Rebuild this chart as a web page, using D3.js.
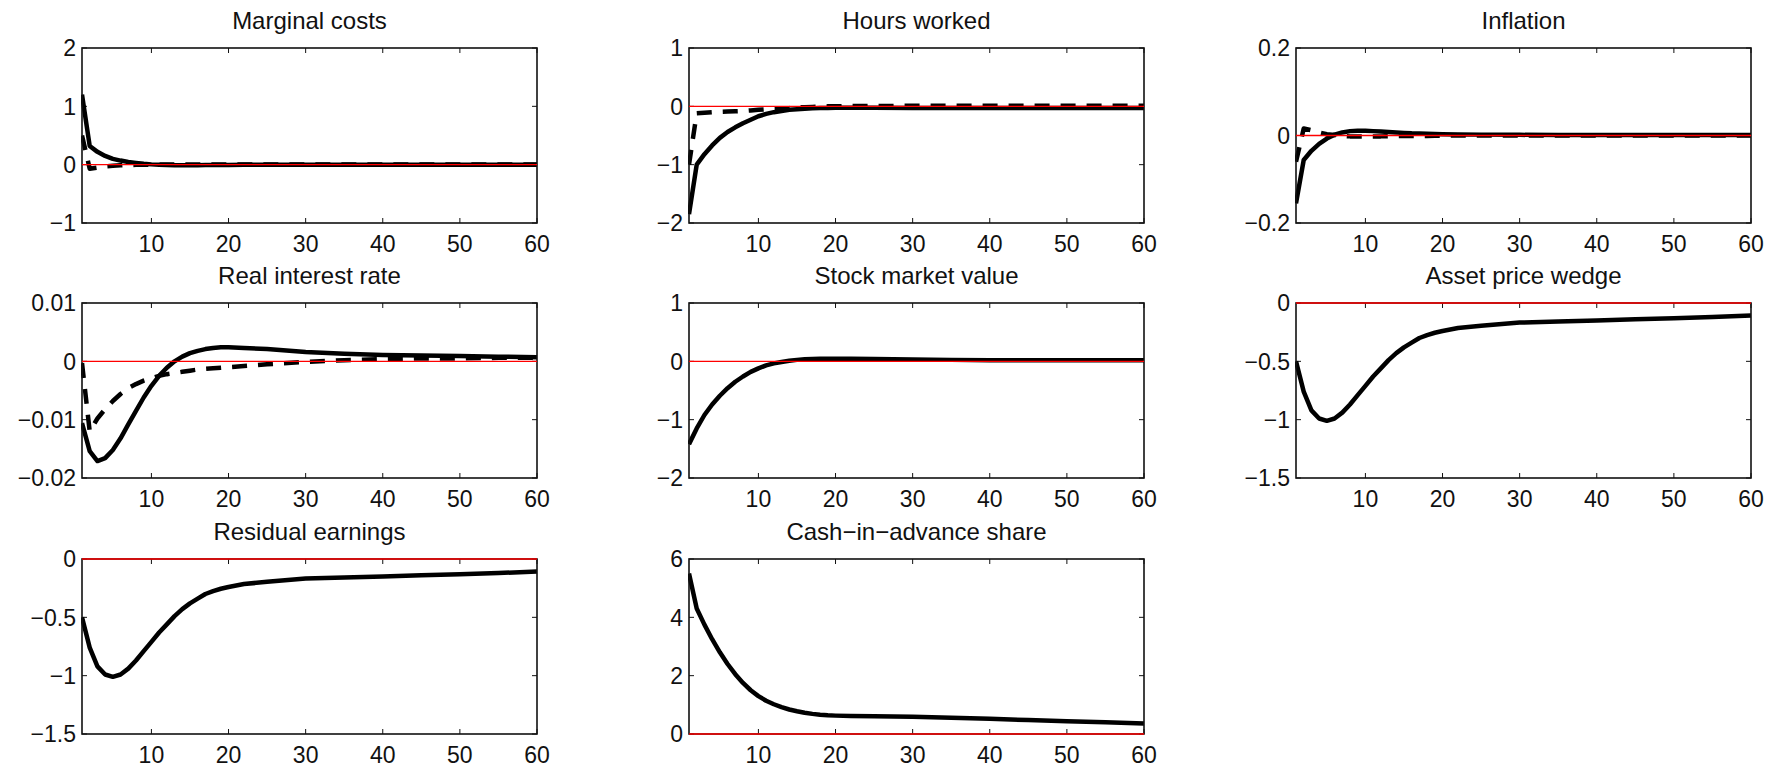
<!DOCTYPE html>
<html>
<head>
<meta charset="utf-8">
<script src="https://cdn.jsdelivr.net/npm/d3@7/dist/d3.min.js"></script>
<style>
  html, body { margin: 0; padding: 0; background: #fff; }
  svg { display: block; }
  text { font-family: "Liberation Sans", Arial, Helvetica, sans-serif; fill: #111; }
</style>
</head>
<body>
<svg id="chart" width="1765" height="769"></svg>
<script>
// ---------- data ----------
const periods = [1,2,3,4,5,6,7,8,9,10,11,12,13,14,15,16,17,18,19,20,22,25,30,35,40,45,50,55,60];

const titles = ["Marginal costs","Hours worked","Inflation","Real interest rate","Stock market value","Asset price wedge","Residual earnings","Cash\u2212in\u2212advance share"];

const xTicks = [10,20,30,40,50,60];

const mcSolid  = [1.2,0.32,0.22,0.15,0.10,0.07,0.045,0.03,0.015,0.005,-0.002,-0.006,-0.008,-0.009,-0.009,-0.008,-0.007,-0.006,-0.005,-0.004,-0.003,-0.002,-0.001,0,0,0,0,0,0];
const mcDashed = [0.5,-0.07,-0.05,-0.03,-0.02,-0.012,-0.006,-0.003,-0.001,0,0.001,0.001,0.002,0.002,0.002,0.002,0.002,0.002,0.002,0.002,0.002,0.002,0.002,0.002,0.002,0.002,0.002,0.002,0.002];

const hoursSolid  = [-1.85,-1.0,-0.82,-0.67,-0.54,-0.44,-0.36,-0.29,-0.23,-0.17,-0.13,-0.10,-0.08,-0.06,-0.05,-0.04,-0.035,-0.03,-0.03,-0.025,-0.025,-0.025,-0.03,-0.03,-0.03,-0.03,-0.03,-0.03,-0.03];
const hoursDashed = [-1.0,-0.12,-0.11,-0.1,-0.095,-0.09,-0.085,-0.08,-0.07,-0.06,-0.05,-0.04,-0.035,-0.03,-0.02,-0.015,-0.01,-0.005,0,0,0.005,0.005,0.01,0.01,0.01,0.01,0.01,0.01,0.01];

const inflSolid  = [-0.155,-0.056,-0.035,-0.019,-0.007,0.002,0.007,0.010,0.011,0.011,0.010,0.009,0.008,0.007,0.006,0.005,0.0045,0.004,0.0035,0.003,0.0025,0.002,0.0015,0.001,0.001,0.001,0.001,0.001,0.001];
const inflDashed = [-0.06,0.016,0.012,0.007,0.003,0.001,-0.001,-0.002,-0.002,-0.002,-0.002,-0.002,-0.0015,-0.0015,-0.001,-0.001,-0.001,-0.001,-0.0005,-0.0005,0,0,0,0,0,0,0,0,0];

const rirSolid  = [-0.0106,-0.0154,-0.0171,-0.0166,-0.0152,-0.0132,-0.0108,-0.0085,-0.0062,-0.0042,-0.0025,-0.0011,0.0000,0.0008,0.0014,0.0018,0.0021,0.0023,0.0024,0.0024,0.0023,0.0021,0.0016,0.0013,0.0011,0.0010,0.0009,0.0008,0.0007];
const rirDashed = [-0.0003,-0.012,-0.0098,-0.0082,-0.0068,-0.0056,-0.0046,-0.0039,-0.0033,-0.0029,-0.0025,-0.0022,-0.0020,-0.0018,-0.0016,-0.0014,-0.0013,-0.0012,-0.0011,-0.0010,-0.0008,-0.0005,-0.0001,0.0002,0.0004,0.0005,0.0005,0.0006,0.0006];

const stockSolid = [-1.42,-1.15,-0.92,-0.74,-0.59,-0.46,-0.35,-0.26,-0.18,-0.12,-0.07,-0.035,-0.01,0.01,0.025,0.035,0.04,0.045,0.045,0.045,0.045,0.04,0.03,0.025,0.02,0.02,0.02,0.02,0.02];

const wedgeSolid = [-0.5,-0.76,-0.92,-0.99,-1.01,-0.99,-0.94,-0.87,-0.79,-0.71,-0.63,-0.56,-0.49,-0.43,-0.38,-0.34,-0.30,-0.275,-0.255,-0.24,-0.215,-0.195,-0.168,-0.158,-0.15,-0.14,-0.13,-0.12,-0.108];

const residSolid = [-0.5,-0.76,-0.92,-0.99,-1.01,-0.99,-0.94,-0.87,-0.79,-0.71,-0.63,-0.56,-0.49,-0.43,-0.38,-0.34,-0.30,-0.275,-0.255,-0.24,-0.215,-0.195,-0.168,-0.158,-0.15,-0.14,-0.13,-0.12,-0.108];

const ciaSolid = [5.5,4.3,3.75,3.25,2.8,2.4,2.05,1.75,1.5,1.3,1.14,1.02,0.92,0.84,0.78,0.73,0.69,0.66,0.64,0.63,0.62,0.61,0.59,0.56,0.52,0.48,0.44,0.40,0.36];

const yDomains = [[-1,2],[-2,1],[-0.2,0.2],[-0.02,0.01],[-2,1],[-1.5,0],[-1.5,0],[0,6]];
const yTicks = [[-1,0,1,2],[-2,-1,0,1],[-0.2,0,0.2],[-0.02,-0.01,0,0.01],[-2,-1,0,1],[-1.5,-1,-0.5,0],[-1.5,-1,-0.5,0],[0,2,4,6]];
const yTickLabels = [["\u22121","0","1","2"],["\u22122","\u22121","0","1"],["\u22120.2","0","0.2"],["\u22120.02","\u22120.01","0","0.01"],["\u22122","\u22121","0","1"],["\u22121.5","\u22121","\u22120.5","0"],["\u22121.5","\u22121","\u22120.5","0"],["0","2","4","6"]];

const solidSeries  = [mcSolid, hoursSolid, inflSolid, rirSolid, stockSolid, wedgeSolid, residSolid, ciaSolid];
const dashedSeries = [mcDashed, hoursDashed, inflDashed, rirDashed, null, null, null, null];

// ---------- layout ----------
const colLeft = [82, 689, 1296];
const rowTop = [48, 303, 559];
const pw = 455, ph = 175;
const fontSize = 23;
const titleSize = 24;
const tickLen = 5;

const svg = d3.select("#chart");

titles.forEach((title, i) => {
  const col = i % 3, row = Math.floor(i / 3);
  const g = svg.append("g").attr("transform", `translate(${colLeft[col]},${rowTop[row]})`);
  const x = d3.scaleLinear().domain([1, 60]).range([0, pw]);
  const y = d3.scaleLinear().domain(yDomains[i]).range([ph, 0]);

  const clipId = "clip" + i;
  g.append("clipPath").attr("id", clipId)
    .append("rect").attr("x", -1).attr("y", -3).attr("width", pw + 2).attr("height", ph + 6);

  // ticks (inside, all four sides)
  const tk = g.append("g").attr("stroke", "#111").attr("stroke-width", 1);
  xTicks.forEach(t => {
    tk.append("line").attr("x1", x(t)).attr("x2", x(t)).attr("y1", ph).attr("y2", ph - tickLen);
    tk.append("line").attr("x1", x(t)).attr("x2", x(t)).attr("y1", 0).attr("y2", tickLen);
  });
  yTicks[i].forEach(t => {
    tk.append("line").attr("x1", 0).attr("x2", tickLen).attr("y1", y(t)).attr("y2", y(t));
    tk.append("line").attr("x1", pw).attr("x2", pw - tickLen).attr("y1", y(t)).attr("y2", y(t));
  });

  // series
  const line = d3.line().x((d, k) => x(periods[k])).y(d => y(d));
  const lg = g.append("g").attr("clip-path", `url(#${clipId})`);
  if (dashedSeries[i]) {
    lg.append("path").datum(dashedSeries[i]).attr("d", line)
      .attr("fill", "none").attr("stroke", "#000").attr("stroke-width", 4.5)
      .attr("stroke-dasharray", "15,11").attr("stroke-linejoin", "round");
  }
  lg.append("path").datum(solidSeries[i]).attr("d", line)
    .attr("fill", "none").attr("stroke", "#000").attr("stroke-width", 4.5)
    .attr("stroke-linejoin", "round");

  // box
  g.append("rect").attr("x", 0).attr("y", 0).attr("width", pw).attr("height", ph)
    .attr("fill", "none").attr("stroke", "#111").attr("stroke-width", 1.6);

  // zero reference line
  g.append("line").attr("x1", 0).attr("x2", pw).attr("y1", y(0)).attr("y2", y(0))
    .attr("stroke", "#ff0000").attr("stroke-width", 1.4);

  // tick labels
  xTicks.forEach(t => {
    g.append("text").attr("x", x(t)).attr("y", ph + 29)
      .attr("text-anchor", "middle").attr("font-size", fontSize).text(t);
  });
  yTicks[i].forEach((t, k) => {
    g.append("text").attr("x", -6).attr("y", y(t)).attr("dy", "0.36em")
      .attr("text-anchor", "end").attr("font-size", fontSize).text(yTickLabels[i][k]);
  });

  // title
  g.append("text").attr("x", pw / 2).attr("y", -19)
    .attr("text-anchor", "middle").attr("font-size", titleSize).text(title);
});
</script>
</body>
</html>
